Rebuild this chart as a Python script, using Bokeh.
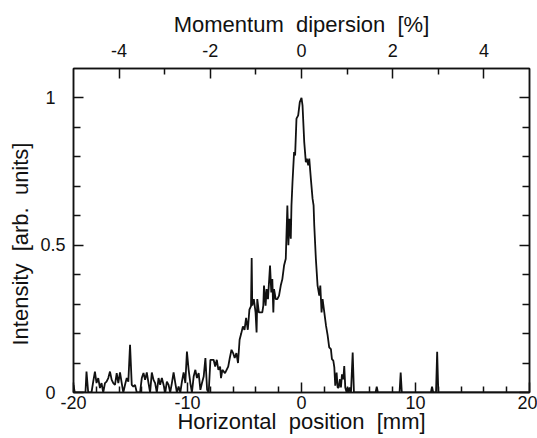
from bokeh.plotting import figure
from bokeh.models import Range1d, LinearAxis, FixedTicker, Title
from bokeh.embed import file_html
from bokeh.resources import INLINE

# ---- data ----
x_mm = [
    -20.00, -19.89, -19.40, -18.95, -18.86, -18.71, -18.42, -18.27, -18.12, -17.98,
    -17.83, -17.68, -17.54, -17.39, -17.24, -17.10, -16.95, -16.80, -16.65, -16.51,
    -16.36, -16.21, -16.07, -15.92, -15.77, -15.63, -15.48, -15.33, -15.19, -15.04,
    -14.89, -14.75, -14.60, -14.45, -14.16, -14.01, -13.86, -13.72, -13.57, -13.42,
    -13.28, -13.13, -12.98, -12.84, -12.69, -12.54, -12.40, -12.25, -12.10, -11.95,
    -11.81, -11.66, -11.52, -11.37, -11.22, -11.07, -10.93, -10.78, -10.63, -10.49,
    -10.34, -10.19, -10.05, -9.90, -9.75, -9.61, -9.46, -9.31, -9.17, -9.02,
    -8.87, -8.73, -8.58, -8.43, -8.28, -8.14, -7.99, -7.86, -7.71, -7.57,
    -7.43, -7.29, -7.14, -7.06, -6.94, -6.71, -6.57, -6.43, -6.29, -6.14,
    -6.00, -5.86, -5.71, -5.57, -5.43, -5.29, -5.14, -5.00, -4.86, -4.71,
    -4.57, -4.43, -4.37, -4.32, -4.18, -4.03, -3.94, -3.88, -3.74, -3.44,
    -3.35, -3.29, -3.15, -3.06, -2.94, -2.76, -2.65, -2.56, -2.47, -2.41,
    -2.26, -2.12, -1.97, -1.82, -1.68, -1.53, -1.38, -1.24, -1.15, -1.06,
    -0.94, -0.88, -0.79, -0.65, -0.56, -0.44, -0.29, -0.15, 0.00, 0.09,
    0.24, 0.38, 0.47, 0.59, 0.68, 0.82, 0.97, 1.06, 1.12, 1.26,
    1.41, 1.56, 1.65, 1.76, 1.85, 2.00, 2.15, 2.29, 2.43, 2.58,
    2.67, 2.79, 2.88, 2.96, 3.08, 3.17, 3.26, 3.37, 3.46, 3.55,
    3.67, 3.75, 3.84, 3.96, 4.05, 4.13, 4.25, 4.34, 4.49, 4.60,
    6.50, 6.60, 6.70, 8.60, 8.70, 8.80, 11.35, 11.45, 11.55, 11.80,
    11.90, 12.00, 20.00,
]
intensity = [
    0.026, 0.0, 0.0, 0.0, 0.071, 0.0, 0.0, 0.037, 0.071, 0.032,
    0.049, 0.015, 0.032, 0.0, 0.032, 0.037, 0.049, 0.071, 0.043, 0.032,
    0.026, 0.066, 0.032, 0.068, 0.032, 0.0, 0.026, 0.049, 0.037, 0.162,
    0.026, 0.020, 0.026, 0.0, 0.0, 0.049, 0.066, 0.043, 0.068, 0.032,
    0.0, 0.068, 0.043, 0.032, 0.0, 0.049, 0.026, 0.049, 0.026, 0.0,
    0.037, 0.026, 0.0, 0.032, 0.068, 0.032, 0.0, 0.020, 0.0, 0.037,
    0.068, 0.032, 0.139, 0.077, 0.032, 0.0, 0.054, 0.077, 0.049, 0.066,
    0.009, 0.032, 0.054, 0.117, 0.009, 0.0, 0.111, 0.111, 0.111, 0.088,
    0.111, 0.077, 0.088, 0.049, 0.077, 0.066, 0.077, 0.088, 0.117, 0.145,
    0.134, 0.117, 0.134, 0.100, 0.179, 0.200, 0.224, 0.213, 0.253, 0.213,
    0.281, 0.293, 0.457, 0.295, 0.317, 0.272, 0.204, 0.317, 0.272, 0.272,
    0.295, 0.363, 0.295, 0.351, 0.317, 0.431, 0.340, 0.385, 0.272, 0.351,
    0.317, 0.317, 0.329, 0.363, 0.385, 0.431, 0.454, 0.635, 0.500, 0.590,
    0.522, 0.635, 0.714, 0.816, 0.805, 0.930, 0.941, 0.986, 1.000, 0.975,
    0.850, 0.782, 0.794, 0.771, 0.794, 0.726, 0.658, 0.635, 0.567, 0.454,
    0.363, 0.329, 0.363, 0.272, 0.317, 0.272, 0.227, 0.195, 0.153, 0.147,
    0.113, 0.108, 0.085, 0.023, 0.068, 0.017, 0.017, 0.045, 0.017, 0.062,
    0.045, 0.090, 0.017, 0.0, 0.017, 0.0, 0.017, 0.0, 0.136, 0.0,
    0.0, 0.020, 0.0, 0.0, 0.068, 0.0, 0.0, 0.020, 0.0, 0.0,
    0.138, 0.0, 0.0,
]

x_major = [-20, -10, 0, 10, 20]
x_minor = [-18, -16, -14, -12, -8, -6, -4, -2, 2, 4, 6, 8, 12, 14, 16, 18]
x_labels = {-20: "-20", -10: "-10", 0: "0", 10: "10", 20: "20"}
m_major = [-4, -2, 0, 2, 4]
m_minor = [-3, -1, 1, 3]
m_labels = {-4: "-4", -2: "-2", 0: "0", 2: "2", 4: "4"}
y_major = [0, 0.5, 1]
y_minor = [0.1, 0.2, 0.3, 0.4, 0.6, 0.7, 0.8, 0.9]
# the reference centres its y tick labels; pad the short ones
y_labels = {0: "0\u00a0\u00a0", 0.5: "0.5", 1: "1\u00a0\u00a0"}

GAP = "\u00a0 "  # wide word gap, as in the reference
x_title = GAP.join(["Horizontal", "position", "[mm]"])
m_title = GAP.join(["Momentum", "dipersion", "[%]"])
y_title = GAP.join(["Intensity", "[arb.", "units]"])

FONT = "Liberation Sans"
INK = "#111111"

p = figure(width=537, height=438, output_backend="svg", toolbar_location=None,
           x_range=Range1d(-20, 20), y_range=Range1d(0, 1.1),
           x_axis_type=None, y_axis_type=None,
           min_border_left=73, min_border_right=8, min_border_top=68, min_border_bottom=46)
p.extra_x_ranges = {"mom": Range1d(-5, 5)}
p.xgrid.visible = False
p.ygrid.visible = False
p.background_fill_color = "white"
p.border_fill_color = "white"
p.outline_line_color = INK
p.outline_line_width = 1.5


def style(ax, major_in, minor_in, standoff, size="18px"):
    ax.axis_line_color = INK
    ax.axis_line_width = 1.5
    ax.major_tick_line_color = INK
    ax.major_tick_line_width = 1.5
    ax.minor_tick_line_color = INK
    ax.minor_tick_line_width = 1.5
    ax.major_tick_in = major_in
    ax.major_tick_out = 0
    ax.minor_tick_in = minor_in
    ax.minor_tick_out = 0
    ax.major_label_standoff = standoff
    ax.major_label_text_font = FONT
    ax.major_label_text_font_size = size
    ax.major_label_text_color = INK
    ax.axis_label_text_font = FONT
    ax.axis_label_text_font_size = "22px"
    ax.axis_label_text_font_style = "normal"
    ax.axis_label_text_color = INK
    ax.axis_label_standoff = 0


xb = LinearAxis(ticker=FixedTicker(ticks=x_major, minor_ticks=x_minor),
                major_label_overrides=x_labels, axis_label=x_title)
style(xb, 10, 6, 3)
xb.axis_label_standoff = -3
xb.major_label_text_baseline = "hanging"
xb.axis_label_text_baseline = "hanging"
p.add_layout(xb, "below")

yl = LinearAxis(ticker=FixedTicker(ticks=y_major, minor_ticks=y_minor),
                major_label_overrides=y_labels)
style(yl, 10, 7, 8)
p.add_layout(yl, "left")

xt = LinearAxis(x_range_name="mom", ticker=FixedTicker(ticks=m_major, minor_ticks=m_minor),
                major_label_overrides=m_labels, axis_label=m_title)
style(xt, 10, 6, 12)
xt.axis_label_standoff = 4
p.add_layout(xt, "above")

yr = LinearAxis(ticker=FixedTicker(ticks=y_major, minor_ticks=y_minor),
                major_label_overrides={0: "", 0.5: "", 1: ""})
style(yr, 10, 7, 0)
p.add_layout(yr, "right")

ytitle = Title(text=y_title, align="left", offset=47, standoff=10,
               text_font=FONT, text_font_size="22px", text_font_style="normal",
               text_color=INK)
p.add_layout(ytitle, "left")

p.line(x_mm, intensity, line_color=INK, line_width=1.8)

open("out.html", "w").write(file_html(p, INLINE))
